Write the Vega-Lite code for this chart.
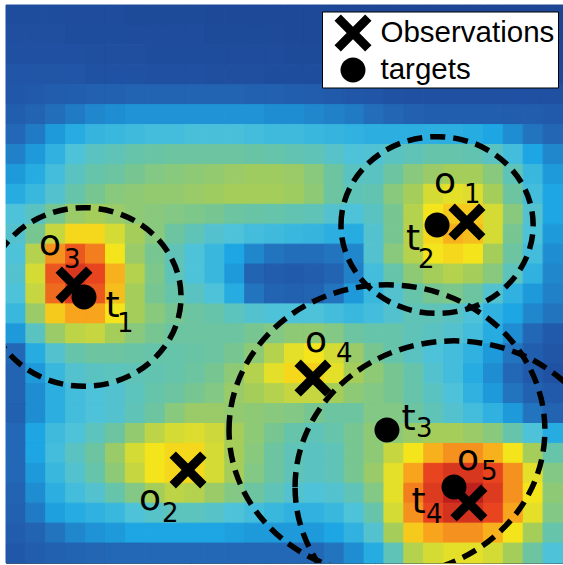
{
"$schema": "https://vega.github.io/schema/vega-lite/v6.json",
"width": 557, "height": 558,
"autosize": {"type": "none"},
"padding": {"left": 6, "top": 5, "right": 0, "bottom": 2},
"background": "white",
"config": {"view": {"stroke": "#555", "strokeWidth": 1}, "font": "Liberation Sans"},
"datasets": {
"markers": [
{"kind":"Observations","name":"o1","x":23.17,"y":10.89},
{"kind":"Observations","name":"o2","x":9.15,"y":23.33},
{"kind":"Observations","name":"o3","x":3.42,"y":14.05},
{"kind":"Observations","name":"o4","x":15.43,"y":18.72},
{"kind":"Observations","name":"o5","x":23.27,"y":24.99},
{"kind":"targets","name":"t1","x":3.92,"y":14.65,"gate":4.88},
{"kind":"targets","name":"t2","x":21.67,"y":11.04,"gate":4.83},
{"kind":"targets","name":"t3","x":19.15,"y":21.33,"gate":7.94},
{"kind":"targets","name":"t4","x":22.52,"y":24.19,"gate":7.99}
],
"labels": [
{"txt":"o","part":"main","x":21.52,"y":9.43},{"txt":"1","part":"sub","x":23.02,"y":9.94},
{"txt":"t","part":"main","x":20.11,"y":12.29},{"txt":"2","part":"sub","x":20.71,"y":13.2},
{"txt":"o","part":"main","x":1.66,"y":12.54},{"txt":"3","part":"sub","x":2.92,"y":13.2},
{"txt":"t","part":"main","x":5.0,"y":15.66},{"txt":"1","part":"sub","x":5.58,"y":16.41},
{"txt":"o","part":"main","x":15.03,"y":17.41},{"txt":"4","part":"sub","x":16.59,"y":17.91},
{"txt":"o","part":"main","x":6.69,"y":25.34},{"txt":"2","part":"sub","x":7.84,"y":25.94},
{"txt":"t","part":"main","x":19.88,"y":21.33},{"txt":"3","part":"sub","x":20.61,"y":21.68},
{"txt":"o","part":"main","x":22.67,"y":23.33},{"txt":"5","part":"sub","x":23.88,"y":23.83},
{"txt":"t","part":"main","x":20.38,"y":25.49},{"txt":"4","part":"sub","x":21.11,"y":25.99}
],
"grid": [
{"c":0,"r":0,"v":8},{"c":1,"r":0,"v":8},{"c":2,"r":0,"v":8},{"c":3,"r":0,"v":7},{"c":4,"r":0,"v":7},{"c":5,"r":0,"v":7},{"c":6,"r":0,"v":6},{"c":7,"r":0,"v":6},{"c":8,"r":0,"v":6},{"c":9,"r":0,"v":6},{"c":10,"r":0,"v":5},{"c":11,"r":0,"v":5},{"c":12,"r":0,"v":5},{"c":13,"r":0,"v":5},{"c":14,"r":0,"v":5},{"c":15,"r":0,"v":5},{"c":16,"r":0,"v":4},{"c":17,"r":0,"v":4},{"c":18,"r":0,"v":3},{"c":19,"r":0,"v":3},{"c":20,"r":0,"v":3},{"c":21,"r":0,"v":3},{"c":22,"r":0,"v":3},{"c":23,"r":0,"v":3},{"c":24,"r":0,"v":3},{"c":25,"r":0,"v":3},{"c":26,"r":0,"v":3},{"c":27,"r":0,"v":3},
{"c":0,"r":1,"v":9},{"c":1,"r":1,"v":9},{"c":2,"r":1,"v":9},{"c":3,"r":1,"v":8},{"c":4,"r":1,"v":8},{"c":5,"r":1,"v":8},{"c":6,"r":1,"v":7},{"c":7,"r":1,"v":7},{"c":8,"r":1,"v":7},{"c":9,"r":1,"v":7},{"c":10,"r":1,"v":6},{"c":11,"r":1,"v":6},{"c":12,"r":1,"v":6},{"c":13,"r":1,"v":6},{"c":14,"r":1,"v":5},{"c":15,"r":1,"v":5},{"c":16,"r":1,"v":5},{"c":17,"r":1,"v":4},{"c":18,"r":1,"v":4},{"c":19,"r":1,"v":3},{"c":20,"r":1,"v":3},{"c":21,"r":1,"v":3},{"c":22,"r":1,"v":3},{"c":23,"r":1,"v":3},{"c":24,"r":1,"v":3},{"c":25,"r":1,"v":3},{"c":26,"r":1,"v":3},{"c":27,"r":1,"v":3},
{"c":0,"r":2,"v":10},{"c":1,"r":2,"v":10},{"c":2,"r":2,"v":10},{"c":3,"r":2,"v":10},{"c":4,"r":2,"v":9},{"c":5,"r":2,"v":9},{"c":6,"r":2,"v":9},{"c":7,"r":2,"v":8},{"c":8,"r":2,"v":8},{"c":9,"r":2,"v":8},{"c":10,"r":2,"v":8},{"c":11,"r":2,"v":7},{"c":12,"r":2,"v":7},{"c":13,"r":2,"v":7},{"c":14,"r":2,"v":6},{"c":15,"r":2,"v":6},{"c":16,"r":2,"v":5},{"c":17,"r":2,"v":5},{"c":18,"r":2,"v":4},{"c":19,"r":2,"v":4},{"c":20,"r":2,"v":4},{"c":21,"r":2,"v":4},{"c":22,"r":2,"v":4},{"c":23,"r":2,"v":4},{"c":24,"r":2,"v":4},{"c":25,"r":2,"v":4},{"c":26,"r":2,"v":4},{"c":27,"r":2,"v":4},
{"c":0,"r":3,"v":12},{"c":1,"r":3,"v":12},{"c":2,"r":3,"v":12},{"c":3,"r":3,"v":12},{"c":4,"r":3,"v":11},{"c":5,"r":3,"v":11},{"c":6,"r":3,"v":11},{"c":7,"r":3,"v":10},{"c":8,"r":3,"v":10},{"c":9,"r":3,"v":10},{"c":10,"r":3,"v":9},{"c":11,"r":3,"v":9},{"c":12,"r":3,"v":9},{"c":13,"r":3,"v":8},{"c":14,"r":3,"v":8},{"c":15,"r":3,"v":8},{"c":16,"r":3,"v":7},{"c":17,"r":3,"v":7},{"c":18,"r":3,"v":6},{"c":19,"r":3,"v":6},{"c":20,"r":3,"v":6},{"c":21,"r":3,"v":6},{"c":22,"r":3,"v":6},{"c":23,"r":3,"v":6},{"c":24,"r":3,"v":6},{"c":25,"r":3,"v":5},{"c":26,"r":3,"v":5},{"c":27,"r":3,"v":5},
{"c":0,"r":4,"v":13},{"c":1,"r":4,"v":14},{"c":2,"r":4,"v":15},{"c":3,"r":4,"v":16},{"c":4,"r":4,"v":17},{"c":5,"r":4,"v":17},{"c":6,"r":4,"v":18},{"c":7,"r":4,"v":18},{"c":8,"r":4,"v":18},{"c":9,"r":4,"v":18},{"c":10,"r":4,"v":18},{"c":11,"r":4,"v":18},{"c":12,"r":4,"v":17},{"c":13,"r":4,"v":17},{"c":14,"r":4,"v":16},{"c":15,"r":4,"v":15},{"c":16,"r":4,"v":14},{"c":17,"r":4,"v":13},{"c":18,"r":4,"v":12},{"c":19,"r":4,"v":11},{"c":20,"r":4,"v":10},{"c":21,"r":4,"v":10},{"c":22,"r":4,"v":10},{"c":23,"r":4,"v":10},{"c":24,"r":4,"v":10},{"c":25,"r":4,"v":10},{"c":26,"r":4,"v":10},{"c":27,"r":4,"v":10},
{"c":0,"r":5,"v":16},{"c":1,"r":5,"v":18},{"c":2,"r":5,"v":21},{"c":3,"r":5,"v":23},{"c":4,"r":5,"v":25},{"c":5,"r":5,"v":26},{"c":6,"r":5,"v":27},{"c":7,"r":5,"v":27},{"c":8,"r":5,"v":27},{"c":9,"r":5,"v":27},{"c":10,"r":5,"v":27},{"c":11,"r":5,"v":27},{"c":12,"r":5,"v":27},{"c":13,"r":5,"v":26},{"c":14,"r":5,"v":26},{"c":15,"r":5,"v":25},{"c":16,"r":5,"v":24},{"c":17,"r":5,"v":23},{"c":18,"r":5,"v":21},{"c":19,"r":5,"v":19},{"c":20,"r":5,"v":17},{"c":21,"r":5,"v":16},{"c":22,"r":5,"v":16},{"c":23,"r":5,"v":16},{"c":24,"r":5,"v":16},{"c":25,"r":5,"v":15},{"c":26,"r":5,"v":15},{"c":27,"r":5,"v":14},
{"c":0,"r":6,"v":20},{"c":1,"r":6,"v":23},{"c":2,"r":6,"v":28},{"c":3,"r":6,"v":32},{"c":4,"r":6,"v":35},{"c":5,"r":6,"v":36},{"c":6,"r":6,"v":37},{"c":7,"r":6,"v":38},{"c":8,"r":6,"v":38},{"c":9,"r":6,"v":39},{"c":10,"r":6,"v":39},{"c":11,"r":6,"v":39},{"c":12,"r":6,"v":38},{"c":13,"r":6,"v":37},{"c":14,"r":6,"v":37},{"c":15,"r":6,"v":36},{"c":16,"r":6,"v":35},{"c":17,"r":6,"v":34},{"c":18,"r":6,"v":33},{"c":19,"r":6,"v":33},{"c":20,"r":6,"v":33},{"c":21,"r":6,"v":33},{"c":22,"r":6,"v":33},{"c":23,"r":6,"v":32},{"c":24,"r":6,"v":30},{"c":25,"r":6,"v":26},{"c":26,"r":6,"v":22},{"c":27,"r":6,"v":19},
{"c":0,"r":7,"v":24},{"c":1,"r":7,"v":28},{"c":2,"r":7,"v":34},{"c":3,"r":7,"v":40},{"c":4,"r":7,"v":44},{"c":5,"r":7,"v":46},{"c":6,"r":7,"v":48},{"c":7,"r":7,"v":49},{"c":8,"r":7,"v":50},{"c":9,"r":7,"v":50},{"c":10,"r":7,"v":50},{"c":11,"r":7,"v":50},{"c":12,"r":7,"v":49},{"c":13,"r":7,"v":48},{"c":14,"r":7,"v":47},{"c":15,"r":7,"v":46},{"c":16,"r":7,"v":43},{"c":17,"r":7,"v":40},{"c":18,"r":7,"v":41},{"c":19,"r":7,"v":44},{"c":20,"r":7,"v":46},{"c":21,"r":7,"v":48},{"c":22,"r":7,"v":48},{"c":23,"r":7,"v":47},{"c":24,"r":7,"v":44},{"c":25,"r":7,"v":38},{"c":26,"r":7,"v":30},{"c":27,"r":7,"v":25},
{"c":0,"r":8,"v":28},{"c":1,"r":8,"v":32},{"c":2,"r":8,"v":38},{"c":3,"r":8,"v":44},{"c":4,"r":8,"v":48},{"c":5,"r":8,"v":50},{"c":6,"r":8,"v":52},{"c":7,"r":8,"v":54},{"c":8,"r":8,"v":55},{"c":9,"r":8,"v":56},{"c":10,"r":8,"v":57},{"c":11,"r":8,"v":58},{"c":12,"r":8,"v":59},{"c":13,"r":8,"v":59},{"c":14,"r":8,"v":58},{"c":15,"r":8,"v":55},{"c":16,"r":8,"v":50},{"c":17,"r":8,"v":44},{"c":18,"r":8,"v":44},{"c":19,"r":8,"v":50},{"c":20,"r":8,"v":55},{"c":21,"r":8,"v":58},{"c":22,"r":8,"v":60},{"c":23,"r":8,"v":60},{"c":24,"r":8,"v":55},{"c":25,"r":8,"v":46},{"c":26,"r":8,"v":36},{"c":27,"r":8,"v":28},
{"c":0,"r":9,"v":32},{"c":1,"r":9,"v":36},{"c":2,"r":9,"v":42},{"c":3,"r":9,"v":48},{"c":4,"r":9,"v":52},{"c":5,"r":9,"v":55},{"c":6,"r":9,"v":56},{"c":7,"r":9,"v":57},{"c":8,"r":9,"v":57},{"c":9,"r":9,"v":58},{"c":10,"r":9,"v":59},{"c":11,"r":9,"v":60},{"c":12,"r":9,"v":60},{"c":13,"r":9,"v":60},{"c":14,"r":9,"v":59},{"c":15,"r":9,"v":56},{"c":16,"r":9,"v":50},{"c":17,"r":9,"v":46},{"c":18,"r":9,"v":47},{"c":19,"r":9,"v":55},{"c":20,"r":9,"v":60},{"c":21,"r":9,"v":66},{"c":22,"r":9,"v":68},{"c":23,"r":9,"v":67},{"c":24,"r":9,"v":60},{"c":25,"r":9,"v":50},{"c":26,"r":9,"v":38},{"c":27,"r":9,"v":30},
{"c":0,"r":10,"v":40},{"c":1,"r":10,"v":44},{"c":2,"r":10,"v":52},{"c":3,"r":10,"v":58},{"c":4,"r":10,"v":60},{"c":5,"r":10,"v":58},{"c":6,"r":10,"v":56},{"c":7,"r":10,"v":55},{"c":8,"r":10,"v":54},{"c":9,"r":10,"v":53},{"c":10,"r":10,"v":52},{"c":11,"r":10,"v":50},{"c":12,"r":10,"v":49},{"c":13,"r":10,"v":48},{"c":14,"r":10,"v":47},{"c":15,"r":10,"v":46},{"c":16,"r":10,"v":42},{"c":17,"r":10,"v":40},{"c":18,"r":10,"v":44},{"c":19,"r":10,"v":52},{"c":20,"r":10,"v":62},{"c":21,"r":10,"v":70},{"c":22,"r":10,"v":74},{"c":23,"r":10,"v":74},{"c":24,"r":10,"v":66},{"c":25,"r":10,"v":55},{"c":26,"r":10,"v":42},{"c":27,"r":10,"v":30},
{"c":0,"r":11,"v":42},{"c":1,"r":11,"v":52},{"c":2,"r":11,"v":64},{"c":3,"r":11,"v":72},{"c":4,"r":11,"v":72},{"c":5,"r":11,"v":66},{"c":6,"r":11,"v":60},{"c":7,"r":11,"v":55},{"c":8,"r":11,"v":50},{"c":9,"r":11,"v":46},{"c":10,"r":11,"v":42},{"c":11,"r":11,"v":40},{"c":12,"r":11,"v":38},{"c":13,"r":11,"v":37},{"c":14,"r":11,"v":36},{"c":15,"r":11,"v":35},{"c":16,"r":11,"v":33},{"c":17,"r":11,"v":32},{"c":18,"r":11,"v":42},{"c":19,"r":11,"v":52},{"c":20,"r":11,"v":62},{"c":21,"r":11,"v":72},{"c":22,"r":11,"v":78},{"c":23,"r":11,"v":76},{"c":24,"r":11,"v":66},{"c":25,"r":11,"v":52},{"c":26,"r":11,"v":40},{"c":27,"r":11,"v":28},
{"c":0,"r":12,"v":40},{"c":1,"r":12,"v":62},{"c":2,"r":12,"v":82},{"c":3,"r":12,"v":88},{"c":4,"r":12,"v":84},{"c":5,"r":12,"v":70},{"c":6,"r":12,"v":58},{"c":7,"r":12,"v":52},{"c":8,"r":12,"v":46},{"c":9,"r":12,"v":40},{"c":10,"r":12,"v":36},{"c":11,"r":12,"v":30},{"c":12,"r":12,"v":25},{"c":13,"r":12,"v":22},{"c":14,"r":12,"v":21},{"c":15,"r":12,"v":21},{"c":16,"r":12,"v":22},{"c":17,"r":12,"v":25},{"c":18,"r":12,"v":42},{"c":19,"r":12,"v":55},{"c":20,"r":12,"v":62},{"c":21,"r":12,"v":70},{"c":22,"r":12,"v":72},{"c":23,"r":12,"v":70},{"c":24,"r":12,"v":60},{"c":25,"r":12,"v":50},{"c":26,"r":12,"v":38},{"c":27,"r":12,"v":26},
{"c":0,"r":13,"v":42},{"c":1,"r":13,"v":66},{"c":2,"r":13,"v":88},{"c":3,"r":13,"v":93},{"c":4,"r":13,"v":90},{"c":5,"r":13,"v":78},{"c":6,"r":13,"v":62},{"c":7,"r":13,"v":53},{"c":8,"r":13,"v":46},{"c":9,"r":13,"v":40},{"c":10,"r":13,"v":36},{"c":11,"r":13,"v":28},{"c":12,"r":13,"v":18},{"c":13,"r":13,"v":15},{"c":14,"r":13,"v":14},{"c":15,"r":13,"v":15},{"c":16,"r":13,"v":18},{"c":17,"r":13,"v":24},{"c":18,"r":13,"v":38},{"c":19,"r":13,"v":48},{"c":20,"r":13,"v":56},{"c":21,"r":13,"v":60},{"c":22,"r":13,"v":62},{"c":23,"r":13,"v":60},{"c":24,"r":13,"v":55},{"c":25,"r":13,"v":45},{"c":26,"r":13,"v":34},{"c":27,"r":13,"v":25},
{"c":0,"r":14,"v":40},{"c":1,"r":14,"v":64},{"c":2,"r":14,"v":86},{"c":3,"r":14,"v":92},{"c":4,"r":14,"v":88},{"c":5,"r":14,"v":76},{"c":6,"r":14,"v":60},{"c":7,"r":14,"v":52},{"c":8,"r":14,"v":48},{"c":9,"r":14,"v":44},{"c":10,"r":14,"v":40},{"c":11,"r":14,"v":32},{"c":12,"r":14,"v":22},{"c":13,"r":14,"v":18},{"c":14,"r":14,"v":17},{"c":15,"r":14,"v":18},{"c":16,"r":14,"v":22},{"c":17,"r":14,"v":28},{"c":18,"r":14,"v":36},{"c":19,"r":14,"v":42},{"c":20,"r":14,"v":48},{"c":21,"r":14,"v":52},{"c":22,"r":14,"v":53},{"c":23,"r":14,"v":50},{"c":24,"r":14,"v":42},{"c":25,"r":14,"v":34},{"c":26,"r":14,"v":28},{"c":27,"r":14,"v":24},
{"c":0,"r":15,"v":36},{"c":1,"r":15,"v":58},{"c":2,"r":15,"v":74},{"c":3,"r":15,"v":80},{"c":4,"r":15,"v":80},{"c":5,"r":15,"v":70},{"c":6,"r":15,"v":60},{"c":7,"r":15,"v":55},{"c":8,"r":15,"v":52},{"c":9,"r":15,"v":50},{"c":10,"r":15,"v":48},{"c":11,"r":15,"v":45},{"c":12,"r":15,"v":42},{"c":13,"r":15,"v":40},{"c":14,"r":15,"v":40},{"c":15,"r":15,"v":40},{"c":16,"r":15,"v":38},{"c":17,"r":15,"v":36},{"c":18,"r":15,"v":38},{"c":19,"r":15,"v":42},{"c":20,"r":15,"v":46},{"c":21,"r":15,"v":46},{"c":22,"r":15,"v":44},{"c":23,"r":15,"v":40},{"c":24,"r":15,"v":34},{"c":25,"r":15,"v":30},{"c":26,"r":15,"v":25},{"c":27,"r":15,"v":22},
{"c":0,"r":16,"v":28},{"c":1,"r":16,"v":44},{"c":2,"r":16,"v":58},{"c":3,"r":16,"v":63},{"c":4,"r":16,"v":64},{"c":5,"r":16,"v":60},{"c":6,"r":16,"v":55},{"c":7,"r":16,"v":52},{"c":8,"r":16,"v":50},{"c":9,"r":16,"v":50},{"c":10,"r":16,"v":50},{"c":11,"r":16,"v":50},{"c":12,"r":16,"v":52},{"c":13,"r":16,"v":54},{"c":14,"r":16,"v":56},{"c":15,"r":16,"v":56},{"c":16,"r":16,"v":54},{"c":17,"r":16,"v":50},{"c":18,"r":16,"v":48},{"c":19,"r":16,"v":48},{"c":20,"r":16,"v":46},{"c":21,"r":16,"v":44},{"c":22,"r":16,"v":42},{"c":23,"r":16,"v":38},{"c":24,"r":16,"v":32},{"c":25,"r":16,"v":26},{"c":26,"r":16,"v":20},{"c":27,"r":16,"v":14},
{"c":0,"r":17,"v":20},{"c":1,"r":17,"v":32},{"c":2,"r":17,"v":42},{"c":3,"r":17,"v":48},{"c":4,"r":17,"v":50},{"c":5,"r":17,"v":50},{"c":6,"r":17,"v":49},{"c":7,"r":17,"v":48},{"c":8,"r":17,"v":48},{"c":9,"r":17,"v":49},{"c":10,"r":17,"v":50},{"c":11,"r":17,"v":52},{"c":12,"r":17,"v":56},{"c":13,"r":17,"v":62},{"c":14,"r":17,"v":68},{"c":15,"r":17,"v":70},{"c":16,"r":17,"v":66},{"c":17,"r":17,"v":58},{"c":18,"r":17,"v":52},{"c":19,"r":17,"v":48},{"c":20,"r":17,"v":44},{"c":21,"r":17,"v":40},{"c":22,"r":17,"v":38},{"c":23,"r":17,"v":34},{"c":24,"r":17,"v":28},{"c":25,"r":17,"v":22},{"c":26,"r":17,"v":16},{"c":27,"r":17,"v":12},
{"c":0,"r":18,"v":18},{"c":1,"r":18,"v":28},{"c":2,"r":18,"v":36},{"c":3,"r":18,"v":42},{"c":4,"r":18,"v":44},{"c":5,"r":18,"v":45},{"c":6,"r":18,"v":46},{"c":7,"r":18,"v":47},{"c":8,"r":18,"v":48},{"c":9,"r":18,"v":50},{"c":10,"r":18,"v":52},{"c":11,"r":18,"v":56},{"c":12,"r":18,"v":62},{"c":13,"r":18,"v":68},{"c":14,"r":18,"v":72},{"c":15,"r":18,"v":73},{"c":16,"r":18,"v":68},{"c":17,"r":18,"v":60},{"c":18,"r":18,"v":56},{"c":19,"r":18,"v":52},{"c":20,"r":18,"v":48},{"c":21,"r":18,"v":42},{"c":22,"r":18,"v":38},{"c":23,"r":18,"v":32},{"c":24,"r":18,"v":26},{"c":25,"r":18,"v":20},{"c":26,"r":18,"v":14},{"c":27,"r":18,"v":11},
{"c":0,"r":19,"v":18},{"c":1,"r":19,"v":26},{"c":2,"r":19,"v":33},{"c":3,"r":19,"v":38},{"c":4,"r":19,"v":40},{"c":5,"r":19,"v":42},{"c":6,"r":19,"v":45},{"c":7,"r":19,"v":48},{"c":8,"r":19,"v":50},{"c":9,"r":19,"v":52},{"c":10,"r":19,"v":54},{"c":11,"r":19,"v":58},{"c":12,"r":19,"v":60},{"c":13,"r":19,"v":62},{"c":14,"r":19,"v":64},{"c":15,"r":19,"v":64},{"c":16,"r":19,"v":60},{"c":17,"r":19,"v":56},{"c":18,"r":19,"v":54},{"c":19,"r":19,"v":52},{"c":20,"r":19,"v":48},{"c":21,"r":19,"v":44},{"c":22,"r":19,"v":40},{"c":23,"r":19,"v":34},{"c":24,"r":19,"v":28},{"c":25,"r":19,"v":22},{"c":26,"r":19,"v":17},{"c":27,"r":19,"v":14},
{"c":0,"r":20,"v":17},{"c":1,"r":20,"v":26},{"c":2,"r":20,"v":33},{"c":3,"r":20,"v":38},{"c":4,"r":20,"v":40},{"c":5,"r":20,"v":42},{"c":6,"r":20,"v":46},{"c":7,"r":20,"v":50},{"c":8,"r":20,"v":55},{"c":9,"r":20,"v":58},{"c":10,"r":20,"v":58},{"c":11,"r":20,"v":57},{"c":12,"r":20,"v":56},{"c":13,"r":20,"v":55},{"c":14,"r":20,"v":54},{"c":15,"r":20,"v":52},{"c":16,"r":20,"v":50},{"c":17,"r":20,"v":50},{"c":18,"r":20,"v":54},{"c":19,"r":20,"v":54},{"c":20,"r":20,"v":50},{"c":21,"r":20,"v":46},{"c":22,"r":20,"v":42},{"c":23,"r":20,"v":38},{"c":24,"r":20,"v":34},{"c":25,"r":20,"v":28},{"c":26,"r":20,"v":22},{"c":27,"r":20,"v":18},
{"c":0,"r":21,"v":20},{"c":1,"r":21,"v":30},{"c":2,"r":21,"v":37},{"c":3,"r":21,"v":40},{"c":4,"r":21,"v":45},{"c":5,"r":21,"v":50},{"c":6,"r":21,"v":57},{"c":7,"r":21,"v":63},{"c":8,"r":21,"v":66},{"c":9,"r":21,"v":67},{"c":10,"r":21,"v":65},{"c":11,"r":21,"v":60},{"c":12,"r":21,"v":56},{"c":13,"r":21,"v":52},{"c":14,"r":21,"v":48},{"c":15,"r":21,"v":46},{"c":16,"r":21,"v":48},{"c":17,"r":21,"v":52},{"c":18,"r":21,"v":56},{"c":19,"r":21,"v":56},{"c":20,"r":21,"v":58},{"c":21,"r":21,"v":60},{"c":22,"r":21,"v":60},{"c":23,"r":21,"v":58},{"c":24,"r":21,"v":55},{"c":25,"r":21,"v":48},{"c":26,"r":21,"v":40},{"c":27,"r":21,"v":32},
{"c":0,"r":22,"v":20},{"c":1,"r":22,"v":30},{"c":2,"r":22,"v":38},{"c":3,"r":22,"v":44},{"c":4,"r":22,"v":50},{"c":5,"r":22,"v":58},{"c":6,"r":22,"v":66},{"c":7,"r":22,"v":70},{"c":8,"r":22,"v":72},{"c":9,"r":22,"v":72},{"c":10,"r":22,"v":66},{"c":11,"r":22,"v":60},{"c":12,"r":22,"v":55},{"c":13,"r":22,"v":50},{"c":14,"r":22,"v":46},{"c":15,"r":22,"v":44},{"c":16,"r":22,"v":46},{"c":17,"r":22,"v":52},{"c":18,"r":22,"v":56},{"c":19,"r":22,"v":64},{"c":20,"r":22,"v":70},{"c":21,"r":22,"v":78},{"c":22,"r":22,"v":82},{"c":23,"r":22,"v":82},{"c":24,"r":22,"v":78},{"c":25,"r":22,"v":70},{"c":26,"r":22,"v":60},{"c":27,"r":22,"v":48},
{"c":0,"r":23,"v":20},{"c":1,"r":23,"v":28},{"c":2,"r":23,"v":36},{"c":3,"r":23,"v":42},{"c":4,"r":23,"v":48},{"c":5,"r":23,"v":56},{"c":6,"r":23,"v":64},{"c":7,"r":23,"v":70},{"c":8,"r":23,"v":72},{"c":9,"r":23,"v":72},{"c":10,"r":23,"v":66},{"c":11,"r":23,"v":60},{"c":12,"r":23,"v":54},{"c":13,"r":23,"v":50},{"c":14,"r":23,"v":46},{"c":15,"r":23,"v":44},{"c":16,"r":23,"v":46},{"c":17,"r":23,"v":52},{"c":18,"r":23,"v":58},{"c":19,"r":23,"v":68},{"c":20,"r":23,"v":80},{"c":21,"r":23,"v":90},{"c":22,"r":23,"v":93},{"c":23,"r":23,"v":93},{"c":24,"r":23,"v":90},{"c":25,"r":23,"v":82},{"c":26,"r":23,"v":68},{"c":27,"r":23,"v":54},
{"c":0,"r":24,"v":18},{"c":1,"r":24,"v":26},{"c":2,"r":24,"v":33},{"c":3,"r":24,"v":38},{"c":4,"r":24,"v":42},{"c":5,"r":24,"v":48},{"c":6,"r":24,"v":54},{"c":7,"r":24,"v":60},{"c":8,"r":24,"v":63},{"c":9,"r":24,"v":62},{"c":10,"r":24,"v":58},{"c":11,"r":24,"v":54},{"c":12,"r":24,"v":50},{"c":13,"r":24,"v":46},{"c":14,"r":24,"v":42},{"c":15,"r":24,"v":40},{"c":16,"r":24,"v":42},{"c":17,"r":24,"v":46},{"c":18,"r":24,"v":54},{"c":19,"r":24,"v":68},{"c":20,"r":24,"v":84},{"c":21,"r":24,"v":92},{"c":22,"r":24,"v":98},{"c":23,"r":24,"v":98},{"c":24,"r":24,"v":92},{"c":25,"r":24,"v":82},{"c":26,"r":24,"v":70},{"c":27,"r":24,"v":56},
{"c":0,"r":25,"v":17},{"c":1,"r":25,"v":23},{"c":2,"r":25,"v":29},{"c":3,"r":25,"v":32},{"c":4,"r":25,"v":34},{"c":5,"r":25,"v":36},{"c":6,"r":25,"v":40},{"c":7,"r":25,"v":43},{"c":8,"r":25,"v":45},{"c":9,"r":25,"v":45},{"c":10,"r":25,"v":43},{"c":11,"r":25,"v":40},{"c":12,"r":25,"v":38},{"c":13,"r":25,"v":36},{"c":14,"r":25,"v":34},{"c":15,"r":25,"v":34},{"c":16,"r":25,"v":36},{"c":17,"r":25,"v":40},{"c":18,"r":25,"v":48},{"c":19,"r":25,"v":66},{"c":20,"r":25,"v":82},{"c":21,"r":25,"v":90},{"c":22,"r":25,"v":94},{"c":23,"r":25,"v":94},{"c":24,"r":25,"v":90},{"c":25,"r":25,"v":80},{"c":26,"r":25,"v":68},{"c":27,"r":25,"v":54},
{"c":0,"r":26,"v":15},{"c":1,"r":26,"v":18},{"c":2,"r":26,"v":22},{"c":3,"r":26,"v":25},{"c":4,"r":26,"v":27},{"c":5,"r":26,"v":28},{"c":6,"r":26,"v":30},{"c":7,"r":26,"v":30},{"c":8,"r":26,"v":30},{"c":9,"r":26,"v":30},{"c":10,"r":26,"v":30},{"c":11,"r":26,"v":29},{"c":12,"r":26,"v":28},{"c":13,"r":26,"v":28},{"c":14,"r":26,"v":28},{"c":15,"r":26,"v":28},{"c":16,"r":26,"v":30},{"c":17,"r":26,"v":34},{"c":18,"r":26,"v":42},{"c":19,"r":26,"v":60},{"c":20,"r":26,"v":74},{"c":21,"r":26,"v":80},{"c":22,"r":26,"v":82},{"c":23,"r":26,"v":82},{"c":24,"r":26,"v":78},{"c":25,"r":26,"v":70},{"c":26,"r":26,"v":60},{"c":27,"r":26,"v":48},
{"c":0,"r":27,"v":13},{"c":1,"r":27,"v":15},{"c":2,"r":27,"v":17},{"c":3,"r":27,"v":18},{"c":4,"r":27,"v":19},{"c":5,"r":27,"v":20},{"c":6,"r":27,"v":20},{"c":7,"r":27,"v":20},{"c":8,"r":27,"v":20},{"c":9,"r":27,"v":20},{"c":10,"r":27,"v":20},{"c":11,"r":27,"v":20},{"c":12,"r":27,"v":20},{"c":13,"r":27,"v":20},{"c":14,"r":27,"v":20},{"c":15,"r":27,"v":20},{"c":16,"r":27,"v":22},{"c":17,"r":27,"v":26},{"c":18,"r":27,"v":32},{"c":19,"r":27,"v":46},{"c":20,"r":27,"v":62},{"c":21,"r":27,"v":66},{"c":22,"r":27,"v":68},{"c":23,"r":27,"v":68},{"c":24,"r":27,"v":66},{"c":25,"r":27,"v":60},{"c":26,"r":27,"v":50},{"c":27,"r":27,"v":40}
]
},
"layer": [
{
"data": {"name": "grid"},
"mark": {"type": "rect", "strokeWidth": 1},
"encoding": {
"x": {"field": "c", "type": "ordinal", "axis": null, "scale": {"paddingInner": 0, "paddingOuter": 0}},
"y": {"field": "r", "type": "ordinal", "axis": null, "scale": {"paddingInner": 0, "paddingOuter": 0}},
"color": {"field": "v", "type": "quantitative", "legend": null, "scale": {"domain": [0,10,20,30,40,50,60,70,80,90,100], "range": ["#1c418f","#2050a2","#2368b6","#1da6e3","#4ec2d9","#6cc4a0","#a5cd5a","#f4e41c","#f8a41d","#e84420","#b3171c"], "interpolate": "rgb"}},
"stroke": {"field": "v", "type": "quantitative", "legend": null, "scale": {"domain": [0,10,20,30,40,50,60,70,80,90,100], "range": ["#1c418f","#2050a2","#2368b6","#1da6e3","#4ec2d9","#6cc4a0","#a5cd5a","#f4e41c","#f8a41d","#e84420","#b3171c"], "interpolate": "rgb"}}
}
},
{
"data": {"name": "markers"},
"transform": [{"filter": "datum.kind == 'targets'"}],
"mark": {"type": "point", "shape": "M-1,0C-1,-0.508 -0.552,-0.92 0,-0.92C0.552,-0.92 1,-0.508 1,0C1,0.508 0.552,0.92 0,0.92C-0.552,0.92 -1,0.508 -1,0Z", "filled": false, "stroke": "black", "strokeWidth": 5.5, "strokeDash": [15, 8], "opacity": 1, "clip": true},
"encoding": {
"x": {"field": "x", "type": "quantitative", "scale": {"domain": [0, 28], "nice": false, "zero": false}, "axis": {"orient": "top", "values": [9.25, 18.55, 27.75], "labels": false, "domain": false, "grid": false, "tickSize": -5, "tickColor": "black", "title": null}},
"y": {"field": "y", "type": "quantitative", "scale": {"domain": [0, 28], "nice": false, "zero": false, "reverse": true}, "axis": {"orient": "right", "values": [2.61, 7.68, 12.75, 17.81, 22.93], "labels": false, "domain": false, "grid": false, "tickSize": -5, "tickColor": "black", "title": null}},
"size": {"field": "gate", "type": "quantitative", "legend": null, "scale": {"type": "pow", "exponent": 2, "domain": [0, 10], "range": [0, 158245]}}
}
},
{
"data": {"name": "markers"},
"mark": {"type": "point", "filled": true, "fill": "black", "strokeWidth": 0, "size": 1369, "opacity": 1},
"encoding": {
"x": {"field": "x", "type": "quantitative", "scale": {"domain": [0, 28], "nice": false, "zero": false}, "axis": {"orient": "bottom", "values": [9.25, 18.55, 27.75], "labels": false, "domain": false, "grid": false, "tickSize": -5, "tickColor": "black", "title": null}},
"y": {"field": "y", "type": "quantitative", "scale": {"domain": [0, 28], "nice": false, "zero": false, "reverse": true}, "axis": {"orient": "left", "values": [2.61, 7.68, 12.75, 17.81, 22.93], "labels": false, "domain": false, "grid": false, "tickSize": -5, "tickColor": "black", "title": null}},
"shape": {"field": "kind", "type": "nominal", "scale": {"domain": ["Observations", "targets"], "range": ["M-1,-0.656L-0.656,-1L0,-0.344L0.656,-1L1,-0.656L0.344,0L1,0.656L0.656,1L0,0.344L-0.656,1L-1,0.656L-0.344,0Z", "M-0.676,0C-0.676,-0.373 -0.373,-0.676 0,-0.676C0.373,-0.676 0.676,-0.373 0.676,0C0.676,0.373 0.373,0.676 0,0.676C-0.373,0.676 -0.676,0.373 -0.676,0Z"]},
"legend": {"title": null, "orient": "none", "legendX": 316, "legendY": 6.5, "fillColor": "white", "strokeColor": "black", "padding": 3, "symbolOffset": 9.5, "symbolSize": 1369, "symbolStrokeWidth": 0, "symbolFillColor": "black", "labelFontSize": 29.5, "labelFont": "Liberation Sans", "labelColor": "black", "labelOffset": 9, "labelLimit": 0, "rowPadding": -5,
"encode": {"symbols": {"update": {"fill": {"value": "black"}, "strokeWidth": {"value": 0}, "opacity": {"value": 1}}}}}}
}
},
{
"data": {"name": "labels"},
"transform": [{"filter": "datum.part == 'main'"}],
"mark": {"type": "text", "align": "left", "baseline": "alphabetic", "font": "DejaVu Sans", "fontSize": 36, "fill": "black"},
"encoding": {
"x": {"field": "x", "type": "quantitative", "scale": {"domain": [0, 28], "nice": false, "zero": false}, "axis": null},
"y": {"field": "y", "type": "quantitative", "scale": {"domain": [0, 28], "nice": false, "zero": false, "reverse": true}, "axis": null},
"text": {"field": "txt"}
}
},
{
"data": {"name": "labels"},
"transform": [{"filter": "datum.part == 'sub'"}],
"mark": {"type": "text", "align": "left", "baseline": "alphabetic", "font": "DejaVu Sans", "fontSize": 26, "fill": "black"},
"encoding": {
"x": {"field": "x", "type": "quantitative", "scale": {"domain": [0, 28], "nice": false, "zero": false}, "axis": null},
"y": {"field": "y", "type": "quantitative", "scale": {"domain": [0, 28], "nice": false, "zero": false, "reverse": true}, "axis": null},
"text": {"field": "txt"}
}
}
],
"resolve": {"scale": {"x": "independent", "y": "independent", "size": "independent"}}
}
